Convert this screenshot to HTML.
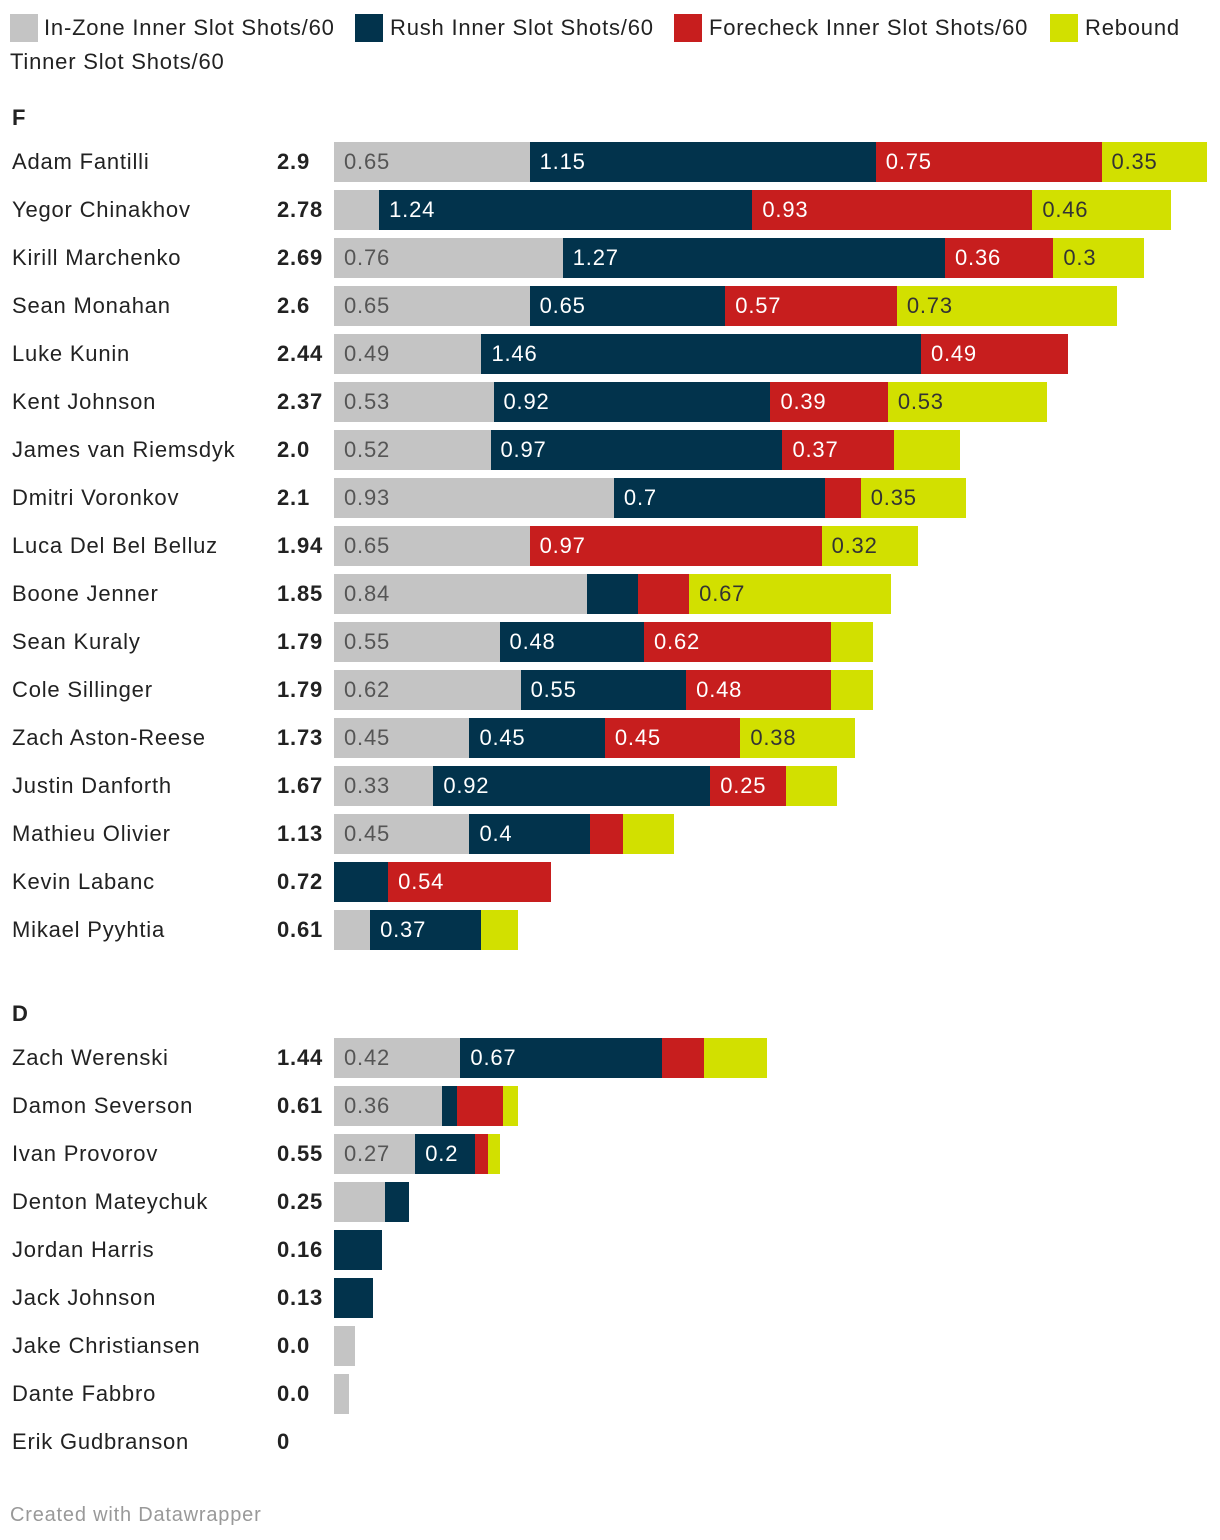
<!DOCTYPE html>
<html><head><meta charset="utf-8"><style>
body{margin:0;width:1220px;height:1540px;background:#fff;font-family:"Liberation Sans",sans-serif;color:#222;overflow:hidden}
.leg{position:absolute;font-size:22px;line-height:28px;letter-spacing:0.8px}
.sw{position:absolute;width:28px;height:28px}
.t{position:absolute;font-size:22px;line-height:40px;white-space:nowrap;letter-spacing:0.8px}
</style></head><body>
<div>
<div class="sw" style="left:10px;top:14px;background:#c4c4c4"></div>
<div class="leg" style="left:44px;top:14px">In-Zone Inner Slot Shots/60</div>
<div class="sw" style="left:355px;top:14px;background:#02334c"></div>
<div class="leg" style="left:390px;top:14px">Rush Inner Slot Shots/60</div>
<div class="sw" style="left:674px;top:14px;background:#c71e1e"></div>
<div class="leg" style="left:709px;top:14px">Forecheck Inner Slot Shots/60</div>
<div class="sw" style="left:1050px;top:14px;background:#d2e000"></div>
<div class="leg" style="left:1085px;top:14px">Rebound</div>
<div class="leg" style="left:10px;top:48px">Tinner Slot Shots/60</div>
</div>
<div class="t" style="left:12px;top:98px;font-weight:bold">F</div>
<div class="t" style="left:12px;top:994px;font-weight:bold">D</div>
<div id="chart"></div>
<div class="t" style="left:10px;top:1495px;color:#999;font-size:20px">Created with Datawrapper</div>
<script>
const names=["Adam Fantilli","Yegor Chinakhov","Kirill Marchenko","Sean Monahan","Luke Kunin","Kent Johnson","James van Riemsdyk","Dmitri Voronkov","Luca Del Bel Belluz","Boone Jenner","Sean Kuraly","Cole Sillinger","Zach Aston-Reese","Justin Danforth","Mathieu Olivier","Kevin Labanc","Mikael Pyyhtia","Zach Werenski","Damon Severson","Ivan Provorov","Denton Mateychuk","Jordan Harris","Jack Johnson","Jake Christiansen","Dante Fabbro","Erik Gudbranson"];
const totals=["2.9","2.78","2.69","2.6","2.44","2.37","2.0","2.1","1.94","1.85","1.79","1.79","1.73","1.67","1.13","0.72","0.61","1.44","0.61","0.55","0.25","0.16","0.13","0.0","0.0","0"];
const inzone=[0.65,0.15,0.76,0.65,0.49,0.53,0.52,0.93,0.65,0.84,0.55,0.62,0.45,0.33,0.45,0,0.12,0.42,0.36,0.27,0.17,0,0,0.07,0.05,0];
const rush=[1.15,1.24,1.27,0.65,1.46,0.92,0.97,0.7,0,0.17,0.48,0.55,0.45,0.92,0.4,0.18,0.37,0.67,0.05,0.2,0.08,0.16,0.13,0,0,0];
const forecheck=[0.75,0.93,0.36,0.57,0.49,0.39,0.37,0.12,0.97,0.17,0.62,0.48,0.45,0.25,0.11,0.54,0,0.14,0.15,0.04,0,0,0,0,0,0];
const rebound=[0.35,0.46,0.3,0.73,0,0.53,0.22,0.35,0.32,0.67,0.14,0.14,0.38,0.17,0.17,0,0.12,0.21,0.05,0.04,0,0,0,0,0,0];
const hideLabel=[[],[],[],[],[],[],[3],[],[],[],[],[],[],[],[],[],[],[3],[],[],[],[],[],[],[],[]];
const x0=334,scale=301;
const X=v=>v*scale;
const Y=i=>i<17?142+48*i:1038+48*(i-17);
const series=[[inzone,"#c4c4c4","#555","inzone"],[rush,"#02334c","#fff","rush"],[forecheck,"#c71e1e","#fff","forecheck"],[rebound,"#d2e000","#333","rebound"]];
const c=document.getElementById('chart');
names.forEach((n,i)=>{
 const y=Y(i);
 const nm=document.createElement('div');nm.className='t';nm.style.left='12px';nm.style.top=y+'px';nm.textContent=n;
 
 
 c.appendChild(nm);
 const tt=document.createElement('div');tt.className='t';tt.style.left='277px';tt.style.top=y+'px';tt.style.fontWeight='bold';tt.textContent=totals[i];
 
 
 c.appendChild(tt);
 let acc=0;
 series.forEach(([arr,col,tc,key],si)=>{
  const v=arr[i];if(!v)return;
  const b=document.createElement('div');
  b.style.cssText=`position:absolute;left:${x0+X(acc)}px;top:${y}px;width:${X(v)}px;height:40px;background:${col};`;
  
  
  if(v>=0.2&&!hideLabel[i].includes(si)){const l=document.createElement('div');l.className='t';l.style.left='10px';l.style.top='0';l.style.color=tc;l.textContent=String(v);
   
   
   b.appendChild(l);}
  c.appendChild(b);acc+=v;
 });
});
</script>
</body></html>
